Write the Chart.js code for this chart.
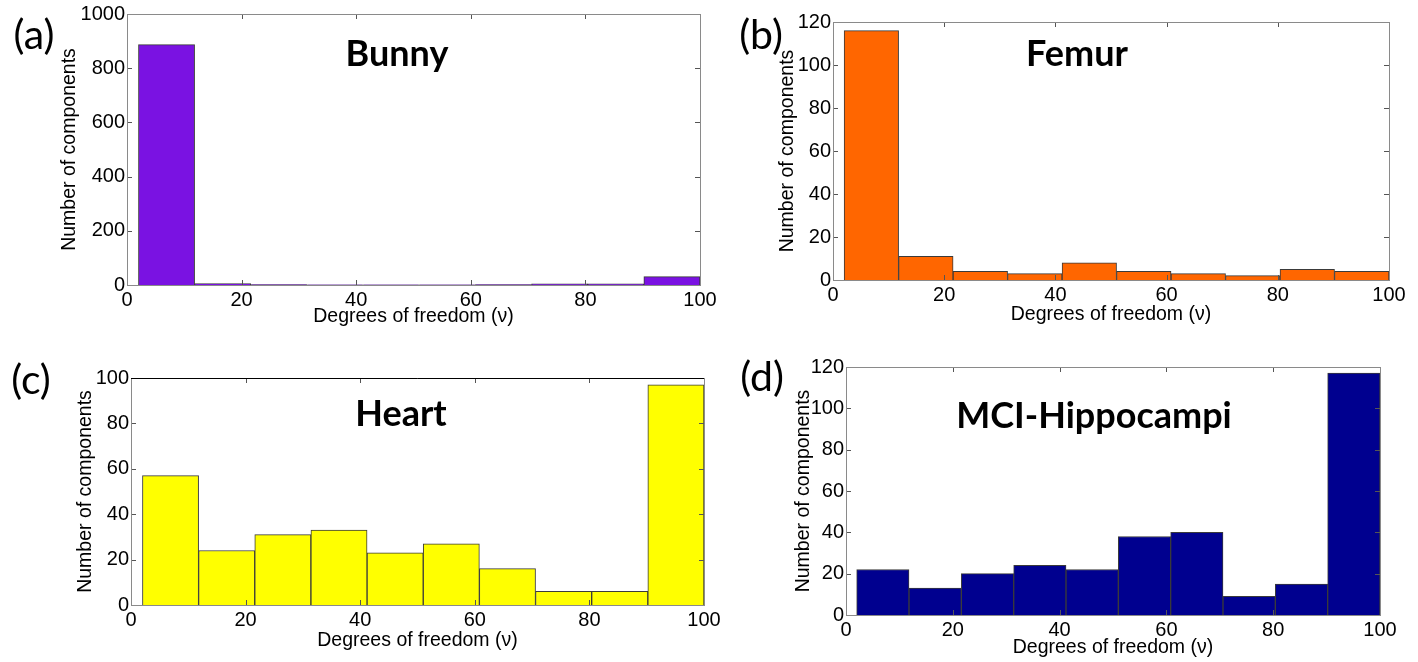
<!DOCTYPE html>
<html>
<head>
<meta charset="utf-8">
<script src="https://cdn.jsdelivr.net/npm/chart.js@4.4.0/dist/chart.umd.min.js"></script>
<style>
  body { margin: 0; background: #fff; }
  #wrap { position: relative; width: 1418px; height: 662px; overflow: hidden; }
  #wrap canvas { position: absolute; left: 0; top: 0; }
  .lbl { position: absolute; transform: translate(-50%, -50%); line-height: 1; white-space: nowrap; font-family: Lato, "Open Sans", sans-serif; color: #000; }
  .tag { font-size: 41px; }
  .name { font-size: 36px; font-weight: bold; }
</style>
</head>
<body>
<div id="wrap">
  <canvas id="cA" width="1418" height="662"></canvas>
  <canvas id="cB" width="1418" height="662"></canvas>
  <canvas id="cC" width="1418" height="662"></canvas>
  <canvas id="cD" width="1418" height="662"></canvas>
  <div class="lbl tag" style="left:34px;top:33px">(a)</div>
  <div class="lbl tag" style="left:761px;top:33px">(b)</div>
  <div class="lbl tag" style="left:31px;top:378px">(c)</div>
  <div class="lbl tag" style="left:762px;top:375px">(d)</div>
  <div class="lbl name" style="left:397px;top:52px">Bunny</div>
  <div class="lbl name" style="left:1077px;top:52px">Femur</div>
  <div class="lbl name" style="left:401px;top:412px">Heart</div>
  <div class="lbl name" style="left:1094px;top:414px">MCI-Hippocampi</div>
</div>
<script>
// bin centres of the histogram (degrees of freedom)
const binCenters = [6.9, 16.7, 26.5, 36.3, 46.1, 55.9, 65.7, 75.5, 85.3, 95.1];

// counts per bin
const bunnyCounts = [887, 5, 2, 1, 1, 1, 2, 4, 4, 31];
const femurCounts = [116, 11, 4, 3, 8, 4, 3, 2, 5, 4];
const heartCounts = [57, 24, 31, 33, 23, 27, 16, 6, 6, 97];
const mciCounts = [22, 13, 20, 24, 22, 38, 40, 9, 15, 117];

// axis limits
const xTicks = { min: 0, max: 100, step: 20 };
const yLimits = { bunny: [1000, 200], femur: [120, 20], heart: [100, 20], mci: [120, 20] };

const xTitle = "Degrees of freedom (\u03bd)";
const yTitle = "Number of components";

const W = 1418, H = 662;
const TITLE_FONT = { family: "Liberation Sans, Arial, sans-serif", size: 19.5, lineHeight: 1.2 };
const TICK_FONT = { family: "Liberation Sans Narrow, Liberation Sans, Arial, sans-serif", size: 20 };

// MATLAB-like box with inward ticks
const boxPlugin = {
  id: "box",
  afterDraw(chart, args, opts) {
    const { ctx, chartArea: a } = chart;
    const xs = chart.scales.x, ys = chart.scales.y;
    ctx.save();
    ctx.lineWidth = 1;
    ctx.strokeStyle = "#555";
    ctx.beginPath();
    xs.ticks.forEach(t => {
      const px = Math.round(xs.getPixelForValue(t.value)) + 0.5;
      ctx.moveTo(px, a.bottom); ctx.lineTo(px, a.bottom - 5);
      ctx.moveTo(px, a.top); ctx.lineTo(px, a.top + 5);
    });
    ys.ticks.forEach(t => {
      const py = Math.round(ys.getPixelForValue(t.value)) + 0.5;
      ctx.moveTo(a.left, py); ctx.lineTo(a.left + 5, py);
      ctx.moveTo(a.right, py); ctx.lineTo(a.right - 5, py);
    });
    ctx.stroke();
    ctx.strokeStyle = "#8a8a8a";
    ctx.strokeRect(Math.round(a.left) + 0.5, Math.round(a.top) + 0.5,
      Math.round(a.right - a.left), Math.round(a.bottom - a.top));
    if (opts.topColor) {
      ctx.strokeStyle = opts.topColor;
      ctx.beginPath();
      ctx.moveTo(a.left, Math.round(a.top) + 0.5);
      ctx.lineTo(a.right, Math.round(a.top) + 0.5);
      ctx.stroke();
    }
    ctx.restore();
  }
};

function makePanel(id, counts, color, lim, box, topColor) {
  const half = TITLE_FONT.size * TITLE_FONT.lineHeight / 2;
  const yLeft = box.yTitleX - half;
  const xBottom = box.xTitleY + half;
  const yWidth = box.L - yLeft;
  const xHeight = xBottom - box.B;

  new Chart(document.getElementById(id), {
    type: "bar",
    data: {
      datasets: [{
        data: binCenters.map((c, i) => ({ x: c, y: counts[i] })),
        backgroundColor: color,
        borderColor: "#3a3a3a",
        borderWidth: 1,
        barPercentage: 1,
        categoryPercentage: 1
      }]
    },
    options: {
      responsive: false,
      animation: false,
      events: [],
      layout: { padding: { left: yLeft, top: box.T, right: W - box.R, bottom: H - xBottom } },
      plugins: { legend: { display: false }, tooltip: { enabled: false }, box: { topColor } },
      scales: {
        x: {
          type: "linear", offset: false, min: xTicks.min, max: xTicks.max,
          grid: { display: false, drawTicks: false }, border: { display: false },
          ticks: { stepSize: xTicks.step, color: "#000", font: TICK_FONT, padding: 3, maxRotation: 0,
            callback: v => String(v) },
          title: { display: true, text: xTitle, color: "#000", font: TITLE_FONT, padding: 0 },
          afterFit(s) { s.height = xHeight; }
        },
        y: {
          min: 0, max: lim[0],
          grid: { display: false, drawTicks: false }, border: { display: false },
          ticks: { stepSize: lim[1], color: "#000", font: TICK_FONT, padding: 2,
            callback: v => String(v) },
          title: { display: true, text: yTitle, color: "#000", font: TITLE_FONT, padding: 0 },
          afterFit(s) { s.width = yWidth; }
        }
      }
    },
    plugins: [boxPlugin]
  });
}

makePanel("cA", bunnyCounts, "#7a12e2", yLimits.bunny,
  { L: 127, T: 14, R: 700, B: 285, yTitleX: 70, xTitleY: 317 });
makePanel("cB", femurCounts, "#ff6600", yLimits.femur,
  { L: 833, T: 22, R: 1389, B: 280, yTitleX: 788, xTitleY: 315 });
makePanel("cC", heartCounts, "#ffff00", yLimits.heart,
  { L: 131, T: 378, R: 704, B: 605, yTitleX: 86, xTitleY: 641 }, "#000");
makePanel("cD", mciCounts, "#00008f", yLimits.mci,
  { L: 846, T: 367, R: 1380, B: 615, yTitleX: 804, xTitleY: 648 });
</script>
</body>
</html>
